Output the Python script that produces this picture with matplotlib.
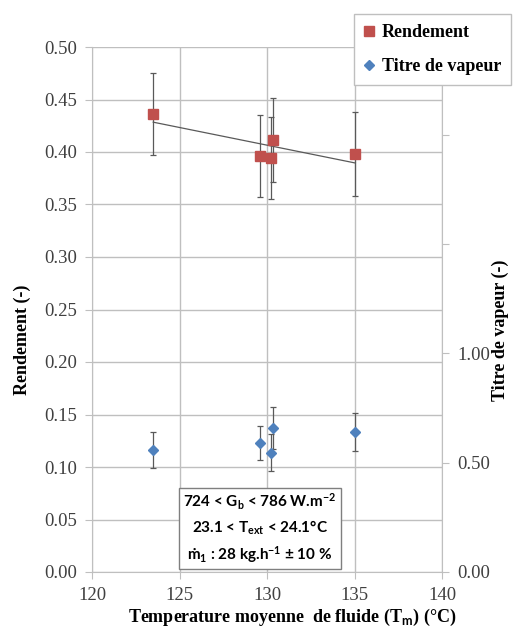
import numpy as np
import matplotlib
matplotlib.use("Agg")
import matplotlib.pyplot as plt
from matplotlib.lines import Line2D

# donnees
temperature = [123.5, 129.6, 130.2, 130.36, 135.05]
rendement = [0.436, 0.3965, 0.3946, 0.4114, 0.3984]
err_rendement = [0.039, 0.039, 0.039, 0.040, 0.040]
titre = [0.558, 0.588, 0.545, 0.658, 0.642]
err_titre = [0.083, 0.078, 0.085, 0.095, 0.087]

x_ticks = [120, 125, 130, 135, 140]
y_ticks = np.arange(0, 0.501, 0.05)
y2_ticks = [0, 0.5, 1.0, 1.5, 2.0]
y2_labels = ["0.00", "0.50", "1.00", "", ""]

rouge = "#C0504D"
bleu = "#4F81BD"
gris = "#BFBFBF"
gris_fonce = "#595959"

plt.rcParams["mathtext.fontset"] = "custom"
plt.rcParams["mathtext.rm"] = "Lato:bold"
plt.rcParams["mathtext.it"] = "Lato:bold"
plt.rcParams["mathtext.bf"] = "Lato:bold"

serif = "Liberation Serif"

fig = plt.figure(figsize=(5.2, 6.28), dpi=100)
ax = fig.add_axes([92 / 520, 56 / 628, 350 / 520, 525 / 628])
ax2 = ax.twinx()

# grille
ax.set_xlim(120, 140)
ax.set_ylim(0, 0.5)
ax.set_xticks(x_ticks)
ax.set_yticks(y_ticks)
ax.set_yticklabels(["%.2f" % v for v in y_ticks])
ax.grid(True, color=gris, lw=1)
ax.set_axisbelow(True)
for s in ["left", "bottom", "right"]:
    ax.spines[s].set_color(gris)
ax.spines["top"].set_visible(False)
ax.tick_params(direction="out", length=5, color=gris, labelsize=13.5,
               pad=6, labelcolor="#404040")
for lab in ax.get_xticklabels() + ax.get_yticklabels():
    lab.set_fontfamily(serif)

# rendement
ax.errorbar(temperature, rendement, yerr=err_rendement, fmt="s", color=rouge,
            ms=7.5, ecolor=gris_fonce, elinewidth=0.9, capsize=2,
            capthick=0.9, zorder=3)
a, b = np.polyfit(temperature, rendement, 1)
xt = np.array([min(temperature), max(temperature)])
ax.plot(xt, a * xt + b, color=gris_fonce, lw=0.9, zorder=2)

# titre de vapeur
ax2.set_ylim(0, 2.4)
ax2.set_yticks(y2_ticks)
ax2.set_yticklabels(y2_labels)
ax2.errorbar(temperature, titre, yerr=err_titre, fmt="D", color=bleu,
             ms=5.5, ecolor=gris_fonce, elinewidth=0.9, capsize=2,
             capthick=0.9, zorder=3)
for s in ax2.spines.values():
    s.set_visible(False)
ax2.tick_params(direction="out", length=5, color=gris, labelsize=13.5,
                pad=6, labelcolor="#404040")
for lab in ax2.get_yticklabels():
    lab.set_fontfamily(serif)

# titres des axes
fig.text(22 / 520, 1 - 340 / 628, "Rendement (-)", rotation=90, ha="center",
         va="center", fontsize=13, fontweight="bold", family=serif)
fig.text(500 / 520, 1 - 330 / 628, "Titre de vapeur (-)", rotation=90,
         ha="center", va="center", fontsize=13, fontweight="bold",
         family=serif)
fig.text(292 / 520, 1 - 617 / 628,
         r"Temperature moyenne  de fluide (T$_\mathrm{m}$) (°C)",
         ha="center", va="center", fontsize=13, fontweight="bold",
         family=serif)

# encadre des conditions
ax.text(0.48, 0.083,
        "724 < G$_\\mathrm{b}$ < 786 W.m$^\\mathrm{-2}$\n"
        "23.1 < T$_\\mathrm{ext}$ < 24.1°C\n"
        "ṁ$_\\mathrm{1}$ : 28 kg.h$^\\mathrm{-1}$ ± 10 %",
        transform=ax.transAxes, ha="center", va="center",
        multialignment="center", fontsize=11, fontweight="bold",
        family=["Lato", "DejaVu Sans"], linespacing=1.45, zorder=5,
        bbox=dict(boxstyle="square,pad=0.3", fc="white", ec="#7F7F7F",
                  lw=1))

# legende
poignees = [Line2D([], [], ls="", marker="s", color=rouge, ms=7),
            Line2D([], [], ls="", marker="D", color=bleu, ms=5)]
leg = fig.legend(poignees, ["Rendement", "Titre de vapeur"],
                 loc="upper right", bbox_to_anchor=(511 / 520, 1 - 14 / 628),
                 borderaxespad=0,
                 prop=dict(family=serif, weight="bold", size=13),
                 frameon=True, fancybox=False, framealpha=1,
                 edgecolor=gris, handlelength=0.6, handletextpad=0.4,
                 labelspacing=0.95, borderpad=0.55)
leg.get_frame().set_linewidth(1)

fig.savefig("out.png", dpi=100)
